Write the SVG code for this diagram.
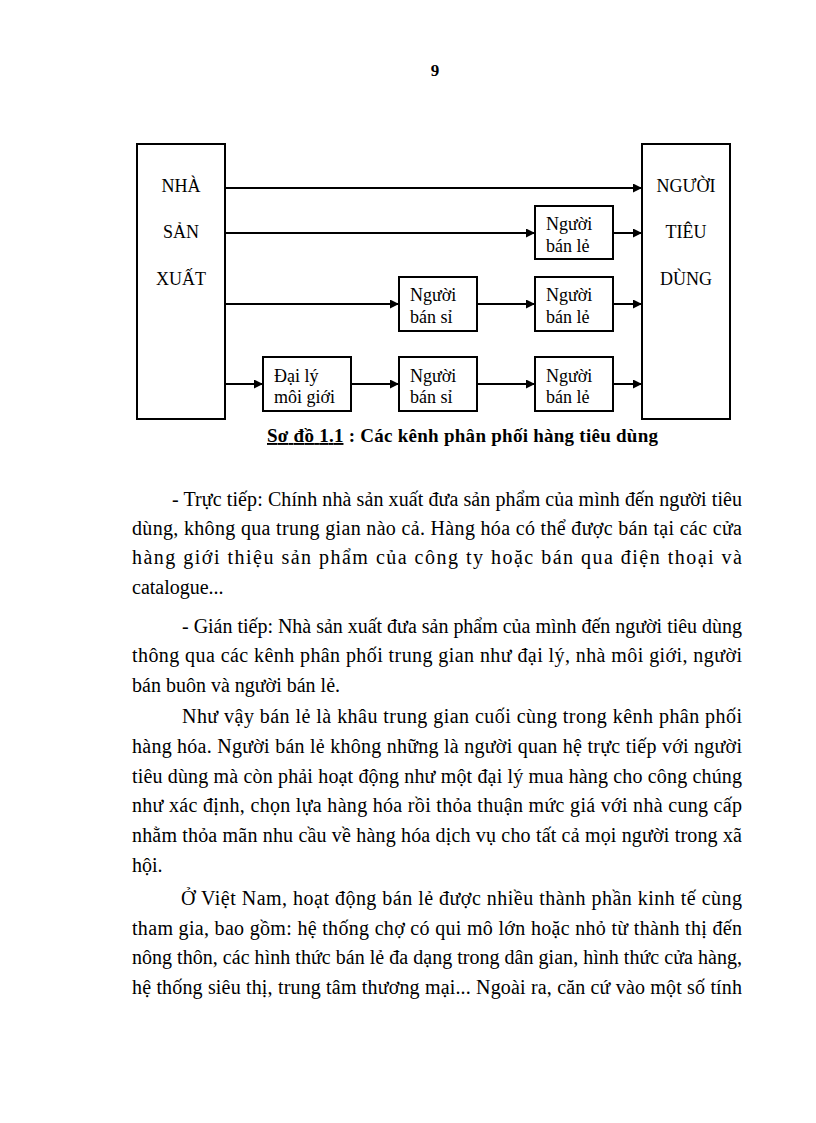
<svg xmlns="http://www.w3.org/2000/svg" width="816" height="1123" viewBox="0 0 816 1123">
<style>
  .bg { fill: #ffffff; }
  .box { fill: #ffffff; stroke: #000000; stroke-width: 2; }
  .conn { stroke: #000000; stroke-width: 2; fill: none; }
  .lbl { font-family: "Liberation Serif", "Times New Roman", serif; font-size: 18px; fill: #000000; }
  .big { font-family: "Liberation Serif", "Times New Roman", serif; font-size: 18px; fill: #000000; text-anchor: middle; }
  .cap { font-family: "Liberation Serif", "Times New Roman", serif; font-size: 19px; font-weight: bold; fill: #000000; }
  .body { font-family: "Liberation Serif", "Times New Roman", serif; font-size: 20px; fill: #000000; }
  .pg { font-family: "Liberation Serif", "Times New Roman", serif; font-size: 17px; font-weight: bold; fill: #000000; text-anchor: middle; }
</style>
<defs>
  <marker id="arr" markerWidth="9" markerHeight="9" refX="9" refY="4.5" orient="auto" markerUnits="userSpaceOnUse">
    <path d="M0,0 L9,4.5 L0,9 Z" fill="#000000"/>
  </marker>
</defs>
<rect class="bg" x="0" y="0" width="816" height="1123"/>
<text class="pg" x="435" y="76">9</text>

<g id="connectors">
  <line class="conn" x1="225" y1="188" x2="642" y2="188" marker-end="url(#arr)"/>
  <line class="conn" x1="225" y1="233" x2="535" y2="233" marker-end="url(#arr)"/>
  <line class="conn" x1="613" y1="233" x2="642" y2="233" marker-end="url(#arr)"/>
  <line class="conn" x1="225" y1="304" x2="399" y2="304" marker-end="url(#arr)"/>
  <line class="conn" x1="477" y1="304" x2="535" y2="304" marker-end="url(#arr)"/>
  <line class="conn" x1="613" y1="304" x2="642" y2="304" marker-end="url(#arr)"/>
  <line class="conn" x1="225" y1="384" x2="263" y2="384" marker-end="url(#arr)"/>
  <line class="conn" x1="351" y1="384" x2="399" y2="384" marker-end="url(#arr)"/>
  <line class="conn" x1="477" y1="384" x2="535" y2="384" marker-end="url(#arr)"/>
  <line class="conn" x1="613" y1="384" x2="642" y2="384" marker-end="url(#arr)"/>
</g>

<g id="nha-san-xuat">
  <rect class="box" x="137" y="144" width="88" height="275"/>
  <text class="big" x="181" y="192">NHÀ</text>
  <text class="big" x="181" y="238">SẢN</text>
  <text class="big" x="181" y="285">XUẤT</text>
</g>
<g id="nguoi-tieu-dung">
  <rect class="box" x="642" y="144" width="88" height="275"/>
  <text class="big" x="686" y="192">NGƯỜI</text>
  <text class="big" x="686" y="238">TIÊU</text>
  <text class="big" x="686" y="285">DÙNG</text>
</g>
<g id="ban-le-1">
  <rect class="box" x="535" y="206" width="78" height="53"/>
  <text class="lbl" x="546" y="230">Người</text>
  <text class="lbl" x="546" y="252">bán lẻ</text>
</g>
<g id="ban-si-2">
  <rect class="box" x="399" y="277" width="78" height="54"/>
  <text class="lbl" x="410" y="301">Người</text>
  <text class="lbl" x="410" y="323">bán sỉ</text>
</g>
<g id="ban-le-2">
  <rect class="box" x="535" y="277" width="78" height="54"/>
  <text class="lbl" x="546" y="301">Người</text>
  <text class="lbl" x="546" y="323">bán lẻ</text>
</g>
<g id="dai-ly">
  <rect class="box" x="263" y="357" width="88" height="54"/>
  <text class="lbl" x="274" y="382">Đại lý</text>
  <text class="lbl" x="274" y="403">môi giới</text>
</g>
<g id="ban-si-3">
  <rect class="box" x="399" y="357" width="78" height="54"/>
  <text class="lbl" x="410" y="382">Người</text>
  <text class="lbl" x="410" y="403">bán sỉ</text>
</g>
<g id="ban-le-3">
  <rect class="box" x="535" y="357" width="78" height="54"/>
  <text class="lbl" x="546" y="382">Người</text>
  <text class="lbl" x="546" y="403">bán lẻ</text>
</g>

<text class="cap" x="267" y="442" textLength="391"><tspan text-decoration="underline">Sơ đồ 1.1</tspan> : Các kênh phân phối hàng tiêu dùng</text>

<g id="body">
  <text class="body" x="172" y="506" textLength="570">- Trực tiếp: Chính nhà sản xuất đưa sản phẩm của mình đến người tiêu</text>
  <text class="body" x="132" y="535" textLength="610">dùng, không qua trung gian nào cả. Hàng hóa có thể được bán tại các cửa</text>
  <text class="body" x="132" y="564" textLength="610">hàng giới thiệu sản phẩm của công ty hoặc bán qua điện thoại và</text>
  <text class="body" x="132" y="594">catalogue...</text>
  <text class="body" x="182" y="633" textLength="560">- Gián tiếp: Nhà sản xuất đưa sản phẩm của mình đến người tiêu dùng</text>
  <text class="body" x="132" y="662" textLength="610">thông qua các kênh phân phối trung gian như đại lý, nhà môi giới, người</text>
  <text class="body" x="132" y="692">bán buôn và người bán lẻ.</text>
  <text class="body" x="182" y="723" textLength="560">Như vậy bán lẻ là khâu trung gian cuối cùng trong kênh phân phối</text>
  <text class="body" x="132" y="753" textLength="610">hàng hóa. Người bán lẻ không những là người quan hệ trực tiếp với người</text>
  <text class="body" x="132" y="783" textLength="610">tiêu dùng mà còn phải hoạt động như một đại lý mua hàng cho công chúng</text>
  <text class="body" x="132" y="812" textLength="610">như xác định, chọn lựa hàng hóa rồi thỏa thuận mức giá với nhà cung cấp</text>
  <text class="body" x="132" y="842" textLength="610">nhằm thỏa mãn nhu cầu về hàng hóa dịch vụ cho tất cả mọi người trong xã</text>
  <text class="body" x="132" y="872">hội.</text>
  <text class="body" x="181" y="905" textLength="561">Ở Việt Nam, hoạt động bán lẻ được nhiều thành phần kinh tế cùng</text>
  <text class="body" x="132" y="935" textLength="610">tham gia, bao gồm: hệ thống chợ có qui mô lớn hoặc nhỏ từ thành thị đến</text>
  <text class="body" x="132" y="964" textLength="610">nông thôn, các hình thức bán lẻ đa dạng trong dân gian, hình thức cửa hàng,</text>
  <text class="body" x="132" y="994" textLength="610">hệ thống siêu thị, trung tâm thương mại... Ngoài ra, căn cứ vào một số tính</text>
</g>
</svg>
